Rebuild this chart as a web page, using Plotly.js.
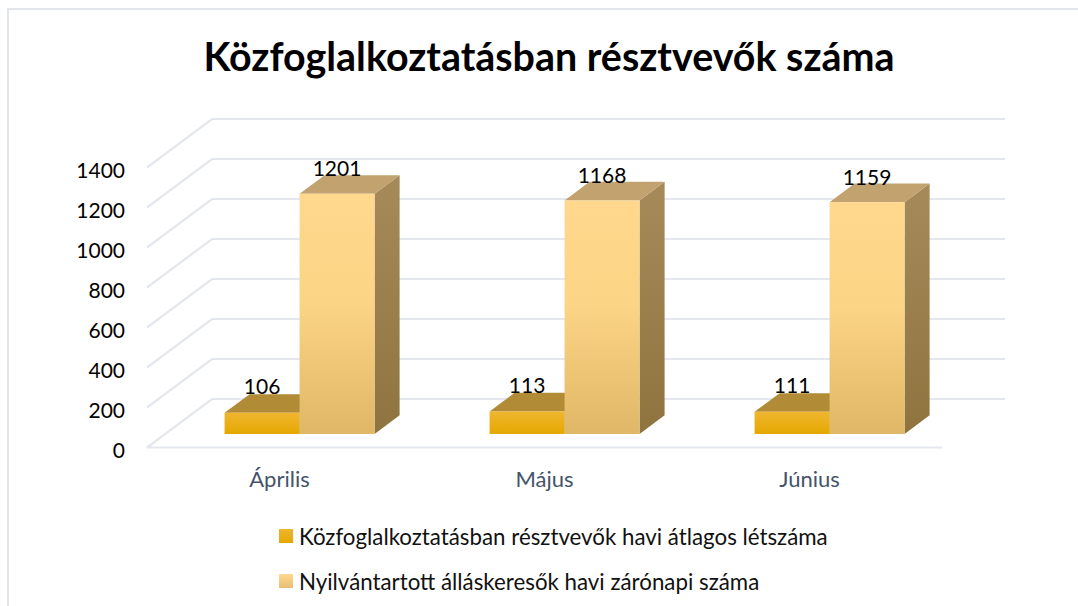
<!DOCTYPE html>
<html><head><meta charset="utf-8">
<script src="https://cdn.plot.ly/plotly-3.0.1.min.js"></script>
<style>html,body{margin:0;padding:0;background:#fff}#c{width:1078px;height:606px}</style>
</head><body><div id="c"></div>
<script>
const titleText = "Közfoglalkoztatásban résztvevők száma";
const months = ["Április", "Május", "Június"];
const seriesNames = ["Közfoglalkoztatásban résztvevők havi átlagos létszáma", "Nyilvántartott álláskeresők havi zárónapi száma"];
const publicWork = [106, 113, 111];
const jobSeekers = [1201, 1168, 1159];
const yTicks = [0, 200, 400, 600, 800, 1000, 1200, 1400];

const W = 1078, H = 606;
const plot = {l: 140, r: 1010, t: 100, b: 460};
const pxX = 265, pxY = 0.2, depthX = 65, depthY = 48.5;
const X = (cat, d) => cat + d * depthX / pxX;
const Y = (v, d) => v + d * depthY / pxY;
const dFront = 0.278, dBack = 0.663, barW = 75 / pxX, shift = 2 / pxX;
const x0 = -0.5, xEnd = 2.5, xBackEnd = x0 + 858 / pxX;

const traces = [];
// gridlines: front-left corner, back-left corner, back-right end
const gx = [], gy = [];
yTicks.forEach(v => {
  if (v === 0) { gx.push(xEnd); gy.push(Y(0, 0)); }
  gx.push(x0, X(x0, 1), xBackEnd, null);
  gy.push(Y(v, 0), Y(v, 1), Y(v, 1), null);
});
traces.push({x: gx, y: gy, mode: 'lines', line: {color: '#e4e7ee', width: 2.2}, hoverinfo: 'skip', showlegend: false, connectgaps: false});

function face(xs, ys, style) {
  const t = {x: xs.concat(xs[0]), y: ys.concat(ys[0]), mode: 'lines', fill: 'toself', line: {width: 0, color: 'rgba(0,0,0,0)'}, hoverinfo: 'skip', showlegend: false};
  if (style.grad) t.fillgradient = {type: 'vertical', colorscale: style.grad};
  else t.fillcolor = style.color;
  traces.push(t);
}
function box(left, right, v, front, top, side) {
  face([X(right, dFront), X(right, dBack), X(right, dBack), X(right, dFront)], [Y(0, dFront), Y(0, dBack), Y(v, dBack), Y(v, dFront)], {grad: side});
  face([X(left, dFront), X(left, dBack), X(right, dBack), X(right, dFront)], [Y(v, dFront), Y(v, dBack), Y(v, dBack), Y(v, dFront)], {color: top});
  face([X(left, dFront), X(right, dFront), X(right, dFront), X(left, dFront)], [Y(0, dFront), Y(0, dFront), Y(v, dFront), Y(v, dFront)], {grad: front});
}
const gradA = [[0, '#e5a800'], [1, '#efb630']];
const sideA = [[0, '#8f6c10'], [1, '#a78020']];
const gradB = [[0, '#e0b766'], [0.55, '#fcd485'], [1, '#ffd88e']];
const sideB = [[0, '#8f7440'], [1, '#a68a5a']];
months.forEach((m, i) => {
  const c = i + shift;
  box(c - barW, c, publicWork[i], gradA, '#b18b35', sideA);
  box(c, c + barW, jobSeekers[i], gradB, '#c2a26e', sideB);
});
// data labels
const lx = [], ly = [], lt = [];
months.forEach((m, i) => {
  const c = i + shift;
  lx.push(X(c - barW / 2, dFront), X(c + barW / 2, dFront));
  ly.push(Y(publicWork[i], 0.77), Y(jobSeekers[i], 0.75));
  lt.push(String(publicWork[i]), String(jobSeekers[i]));
});
traces.push({x: lx, y: ly, text: lt, mode: 'text', textposition: 'middle center', textfont: {family: 'Lato, sans-serif', size: 21, color: '#000'}, hoverinfo: 'skip', showlegend: false, cliponaxis: false});
// legend entries
traces.push({x: [null], y: [null], mode: 'markers', name: seriesNames[0], legendgroup: 'a', marker: {symbol: 'square', size: 14, color: '#efb630', gradient: {type: 'vertical', color: '#e5a800'}}});
traces.push({x: [null], y: [null], mode: 'markers', name: seriesNames[1], legendgroup: 'b', marker: {symbol: 'square', size: 14, color: '#ffd88e', gradient: {type: 'vertical', color: '#e8bf70'}}});

const plotW = plot.r - plot.l, plotH = plot.b - plot.t;
const pX = px => (px - plot.l) / plotW, pY = py => (plot.b - py) / plotH;
const layout = {
  width: W, height: H,
  margin: {l: plot.l, r: W - plot.r, t: plot.t, b: H - plot.b, pad: 0, autoexpand: false},
  paper_bgcolor: '#fff', plot_bgcolor: 'rgba(0,0,0,0)',
  font: {family: 'Lato, sans-serif', color: '#000'},
  title: {text: '<b>' + titleText + '</b>', font: {family: 'Lato, sans-serif', size: 39.4, color: '#000'}, x: 549 / W, xanchor: 'center', y: 1 - 57 / H, yanchor: 'middle'},
  xaxis: {range: [x0 - (147 - plot.l) / pxX, x0 + (plot.r - 147) / pxX], tickvals: [0, 1, 2], ticktext: months, showgrid: false, zeroline: false, showline: false, ticks: '', ticklabelstandoff: 4, tickfont: {family: 'Lato, sans-serif', size: 22, color: '#44546a'}, fixedrange: true},
  yaxis: {range: [-(plot.b - 447.5) / pxY, (447.5 - plot.t) / pxY], tickvals: yTicks, ticktext: yTicks.map(String), showgrid: false, zeroline: false, showline: false, ticks: '', ticklabelstandoff: 14, ticklabelshift: 3, tickfont: {family: 'Lato, sans-serif', size: 21, color: '#000'}, fixedrange: true},
  legend: {x: pX(259), y: pY(515), xanchor: 'left', yanchor: 'top', orientation: 'v', tracegroupgap: 13, font: {family: 'Lato, sans-serif', size: 22.3, color: '#111'}, bgcolor: 'rgba(0,0,0,0)', borderwidth: 0},
  showlegend: true,
  shapes: [{type: 'path', xref: 'paper', yref: 'paper',
    path: 'M ' + pX(8) + ' ' + pY(610) + ' L ' + pX(8) + ' ' + pY(9) + ' L ' + pX(1082) + ' ' + pY(9),
    line: {color: '#e2e6ea', width: 2}, layer: 'below'}]
};
Plotly.newPlot('c', traces, layout, {displayModeBar: false, staticPlot: true}).then(() => {
  document.querySelectorAll('#c .legend .legendsymbols').forEach(n => n.setAttribute('transform', 'translate(7,0)'));
});
</script></body></html>
